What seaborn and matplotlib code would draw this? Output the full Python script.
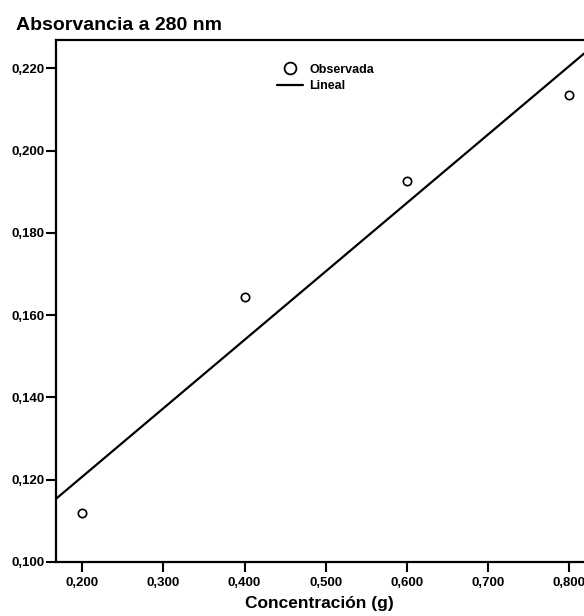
import numpy as np
import pandas as pd
import matplotlib
matplotlib.use("Agg")
import matplotlib.pyplot as plt
import seaborn as sns
from matplotlib.lines import Line2D
from matplotlib.ticker import FuncFormatter

# ============================================
# DATA
# ============================================

concentracion = [0.200, 0.400, 0.600, 0.800]
absorvancia = [0.112, 0.1645, 0.1925, 0.2135]

x_ticks = [0.2, 0.3, 0.4, 0.5, 0.6, 0.7, 0.8]
y_ticks = [0.10, 0.12, 0.14, 0.16, 0.18, 0.20, 0.22]

df = pd.DataFrame({"conc": concentracion, "abs": absorvancia})

# ============================================
# PLOT
# ============================================

sns.set_style("white")
plt.rcParams["font.family"] = ["Liberation Sans", "DejaVu Sans"]
plt.rcParams["text.color"] = "black"
plt.rcParams["axes.labelcolor"] = "black"
plt.rcParams["xtick.color"] = "black"
plt.rcParams["ytick.color"] = "black"

fig = plt.figure(figsize=(5.84, 6.16), dpi=100)
ax = fig.add_axes([0.0952, 0.0877, 0.905, 0.847])

ax.set_xlim(0.167, 0.8185)
ax.set_ylim(0.100, 0.2268)

# regression line across the whole axis
sns.regplot(data=df, x="conc", y="abs", ax=ax, scatter=False, ci=None,
            truncate=False, color="black", line_kws={"lw": 1.6})

# observed points (open circles)
sns.scatterplot(data=df, x="conc", y="abs", ax=ax, marker="o", s=36,
                facecolor="white", edgecolor="black", linewidth=1.2, zorder=3)

ax.set_xlim(0.167, 0.8185)
ax.set_ylim(0.100, 0.2268)

fmt = FuncFormatter(lambda v, p: f"{v:.3f}".replace(".", ","))
ax.set_xticks(x_ticks)
ax.set_yticks(y_ticks)
ax.xaxis.set_major_formatter(fmt)
ax.yaxis.set_major_formatter(fmt)

ax.tick_params(axis="x", pad=3.8)
ax.tick_params(axis="y", pad=1.0)
ax.tick_params(axis="both", which="major", direction="out", length=7,
               width=1.5, colors="black", labelsize=9.5,
               bottom=True, left=True)
for lab in ax.get_xticklabels() + ax.get_yticklabels():
    lab.set_fontweight("bold")

for side in ["left", "bottom", "top"]:
    ax.spines[side].set_visible(True)
    ax.spines[side].set_linewidth(1.6)
    ax.spines[side].set_color("black")
ax.spines["right"].set_visible(False)

ax.set_xlabel("Concentración (g)", fontsize=12.5, fontweight="bold",
              labelpad=5)
ax.set_ylabel("")

fig.text(16 / 584, 1 - 30 / 616, "Absorvancia a 280 nm", fontsize=14,
         fontweight="bold", va="baseline", ha="left")

# legend
handles = [
    Line2D([], [], marker="o", linestyle="none", markersize=8.5,
           markerfacecolor="white", markeredgecolor="black",
           markeredgewidth=1.3, label="Observada"),
    Line2D([], [], color="black", lw=1.6, label="Lineal"),
]
leg = ax.legend(handles=handles, loc="upper left",
                bbox_to_anchor=(0.419, 0.955), frameon=False,
                prop={"size": 9, "weight": "bold"}, handlelength=2.1,
                handletextpad=0.5, labelspacing=0.35, borderaxespad=0,
                borderpad=0)

fig.savefig("out.png", dpi=100)
